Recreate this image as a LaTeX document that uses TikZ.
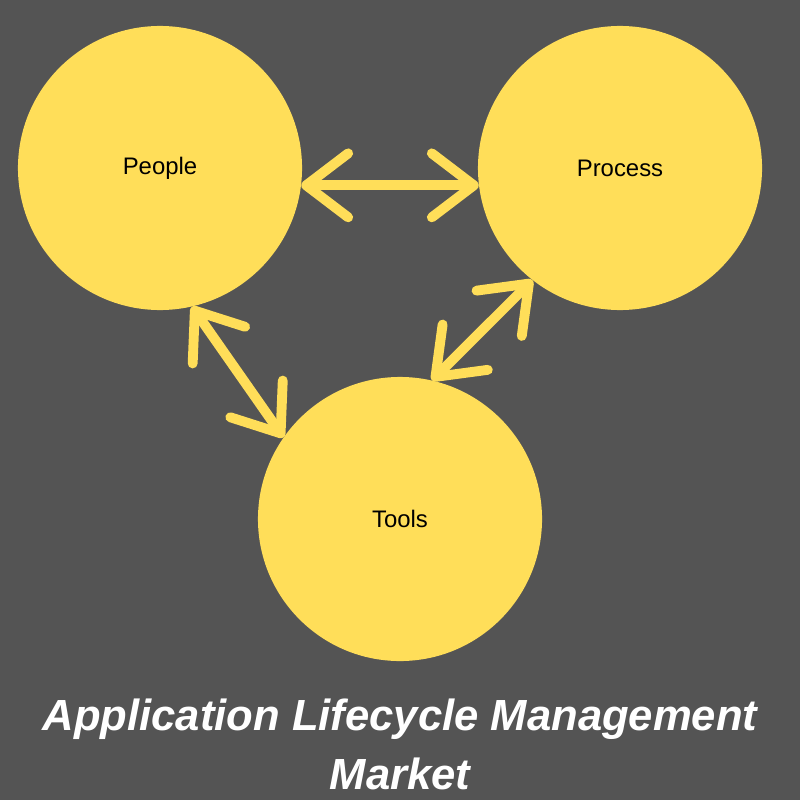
\documentclass[tikz,border=0pt]{standalone}
\usepackage{fontspec}
\setmainfont{Liberation Sans}
\usetikzlibrary{arrows.meta}
\definecolor{almbg}{RGB}{84,84,84}
\definecolor{almyellow}{RGB}{255,222,89}
\tikzset{
  circ/.style={circle, fill=almyellow, minimum size=7.1cm, inner sep=0pt, font=\fontsize{17}{20}\selectfont},
  link/.style={almyellow, line width=7pt, line cap=round,
    {Straight Barb[length=1.05cm,width=1.6cm,line cap=round,line join=round]}-{Straight Barb[length=1.05cm,width=1.6cm,line cap=round,line join=round]}}
}
\begin{document}
\begin{tikzpicture}[x=0.025cm,y=-0.025cm]
	% background
	\fill[almbg] (0,0) rectangle (800,800);
	\useasboundingbox (0,0) rectangle (800,800);
	% nodes
	\node [circ] (people) at (160,168) {People};
	\node [circ] (process) at (620,168) {Process};
	\node [circ] (tools) at (400,519) {Tools};
	\node [white, align=center, font=\fontsize{31}{42}\selectfont\bfseries\itshape] (title) at (400,744) {Application Lifecycle Management\\Market};
	% arrows
	\draw [link] (people.-7) -- (process.187);
	\draw [link] (people.-77) -- (tools.145);
	\draw [link] (process.232) -- (tools.77);
\end{tikzpicture}
\end{document}
